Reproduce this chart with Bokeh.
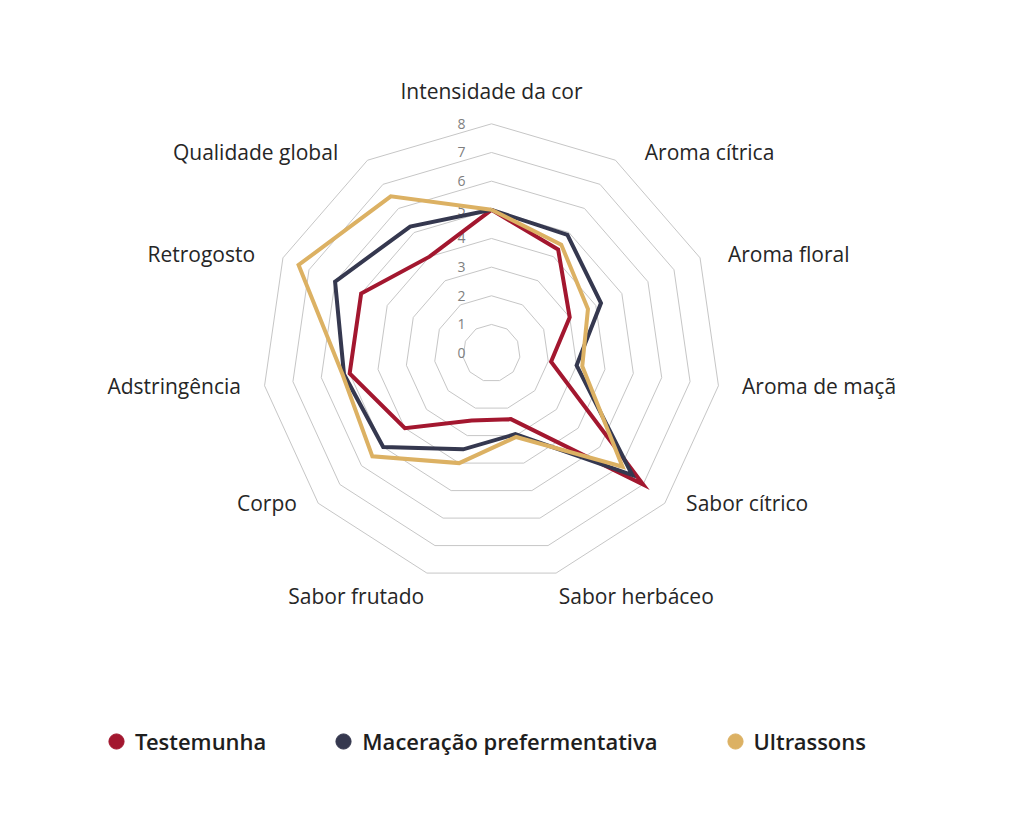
import numpy as np
from bokeh.plotting import figure
from bokeh.models import Range1d, Legend, LegendItem, ColumnDataSource
from bokeh.core.properties import value
from bokeh.embed import file_html
from bokeh.resources import INLINE

# sensory scores (0-8 scale)
categories = ["Intensidade da cor", "Aroma cítrica", "Aroma floral", "Aroma de maçã",
              "Sabor cítrico", "Sabor herbáceo", "Sabor frutado", "Corpo",
              "Adstringência", "Retrogosto", "Qualidade global"]
testemunha = [5.0, 4.3, 3.0, 2.1, 7.0, 2.4, 2.45, 4.0, 5.0, 5.0, 4.0]
maceracao = [5.0, 4.9, 4.2, 3.0, 6.5, 2.95, 3.5, 5.0, 5.2, 6.0, 5.25]
ultrassons = [5.0, 4.5, 3.7, 3.2, 6.05, 3.05, 4.0, 5.5, 5.25, 7.4, 6.5]
series_names = ["Testemunha", "Maceração prefermentativa", "Ultrassons"]
ring_levels = [1, 2, 3, 4, 5, 6, 7, 8]
tick_labels = ["0", "1", "2", "3", "4", "5", "6", "7", "8"]

colors = ["#A3172F", "#35384F", "#DCB163"]
FONT = "Open Sans"

PX = 28.66          # pixels per score unit
CX, CY = 491, 352.6  # chart centre on the page
W, H = 1008, 812

n = len(categories)
ang = np.arange(n) * 2 * np.pi / n   # clockwise from the top


def to_xy(vals, close=True):
    v = np.asarray(vals, dtype=float)
    x, y = v * np.sin(ang), v * np.cos(ang)
    if close:
        x, y = np.append(x, x[0]), np.append(y, y[0])
    return x, y


p = figure(width=W, height=H, output_backend="svg", toolbar_location=None,
           x_axis_location=None, y_axis_location=None, min_border=0,
           x_range=Range1d(-CX / PX, (W - CX) / PX),
           y_range=Range1d(-(H - CY) / PX, CY / PX))
p.grid.visible = False
p.outline_line_color = None
p.background_fill_color = "white"

# grid rings
ring_xs, ring_ys = [], []
for lv in ring_levels:
    x, y = to_xy([lv] * n)
    ring_xs.append(list(x))
    ring_ys.append(list(y))
p.multi_line(ring_xs, ring_ys, line_color="#C6C6C6", line_width=1)

# tick labels along the vertical axis
p.text(x=[0] * len(tick_labels), y=[float(t) for t in tick_labels], text=tick_labels,
       text_align="right", text_baseline="middle", x_offset=-26,
       text_font=value(FONT), text_font_size="14px", text_color="#7F7F7F")

# series
legend_items = []
for name, vals, col in zip(series_names, [testemunha, maceracao, ultrassons], colors):
    x, y = to_xy(vals)
    p.line(x, y, line_color=col, line_width=4, line_join="miter")
    dot = p.scatter(x[:-1], y[:-1], size=0, marker="circle", fill_color=col, line_color=col)
    legend_items.append(LegendItem(label=name, renderers=[dot]))

# category labels, placed just outside the outer ring
R_LAB = 239 / PX
s, c = np.sin(ang), np.cos(ang)
align, base, xoff, yoff = [], [], [], []
for si, ci in zip(s, c):
    if abs(si) < 0.1:
        align.append("center")
        base.append("bottom" if ci > 0 else "top")
        xoff.append(0)
        yoff.append(-9 if ci > 0 else 0)
    elif ci < -0.9:
        align.append("left" if si > 0 else "right")
        base.append("top")
        xoff.append(0)
        yoff.append(0)
    else:
        pad = 14 + 12 * max(ci, 0)
        align.append("left" if si > 0 else "right")
        base.append("middle")
        xoff.append(pad if si > 0 else -pad)
        yoff.append(10 * min(ci, 0))
lab_src = ColumnDataSource(dict(x=R_LAB * s, y=R_LAB * c, text=categories,
                                align=align, base=base, xoff=xoff, yoff=yoff))
p.text(x="x", y="y", text="text", source=lab_src, text_align="align",
       text_baseline="base", x_offset="xoff", y_offset="yoff",
       text_font=value(FONT), text_font_size="21px", text_color="#262626")

legend = Legend(items=legend_items, orientation="horizontal", location=(97, 52),
                glyph_width=38, glyph_height=38, label_standoff=0, spacing=58,
                padding=0, margin=0, border_line_color=None, background_fill_alpha=0,
                label_text_font="Open Sans Medium, Open Sans SemiBold, Open Sans",
                label_text_font_size="22px",
                label_text_color="#1E1E1E", label_height=38)
p.add_layout(legend)

open("out.html", "w").write(file_html(p, INLINE))
